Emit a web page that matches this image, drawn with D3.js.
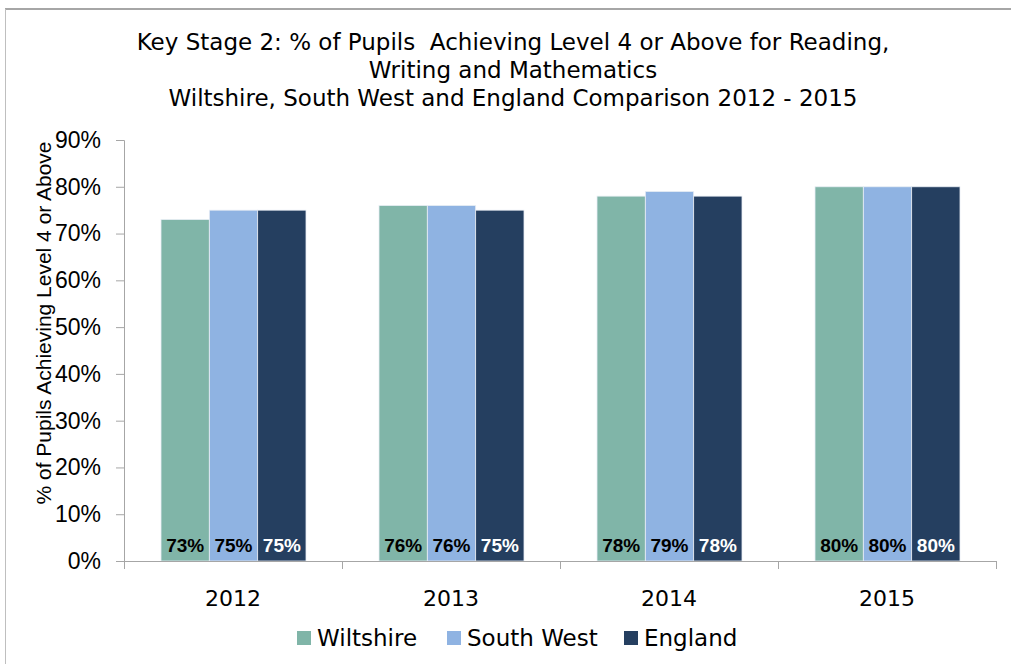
<!DOCTYPE html>
<html>
<head>
<meta charset="utf-8">
<script src="https://cdn.jsdelivr.net/npm/d3@7"></script>
<style>
  body { margin: 0; background: #fff; }
  svg { display: block; }
</style>
</head>
<body>
<div id="vis"></div>
<script>
// chart data
const years = ["2012", "2013", "2014", "2015"];
const seriesNames = ["Wiltshire", "South West", "England"];
const wiltshire = [73, 76, 78, 80];
const southWest = [75, 76, 79, 80];
const england = [75, 75, 78, 80];
const yTicks = [0, 10, 20, 30, 40, 50, 60, 70, 80, 90];
const titleLines = [
  "Key Stage 2: % of Pupils  Achieving Level 4 or Above for Reading,",
  "Writing and Mathematics",
  "Wiltshire, South West and England Comparison 2012 - 2015"
];

const COLORS = ["#80b5a8", "#8fb3e2", "#253f60"];
const LABEL_COLORS = ["#000", "#000", "#fff"];

const FRAME_WIDTH = 1011;
const FRAME_HEIGHT = 664;
const MARGINS = {left: 124, right: 15, top: 140, bottom: 103};
const VIS_WIDTH = FRAME_WIDTH - MARGINS.left - MARGINS.right;
const VIS_HEIGHT = FRAME_HEIGHT - MARGINS.top - MARGINS.bottom;

const FRAME = d3.select("#vis")
  .append("svg")
    .attr("width", FRAME_WIDTH)
    .attr("height", FRAME_HEIGHT);

// outer chart border (top + left visible)
FRAME.append("line")
  .attr("x1", 5).attr("x2", FRAME_WIDTH).attr("y1", 9).attr("y2", 9)
  .attr("stroke", "#a6a6a6").attr("stroke-width", 2);
FRAME.append("line")
  .attr("x1", 5.5).attr("x2", 5.5).attr("y1", 9).attr("y2", FRAME_HEIGHT)
  .attr("stroke", "#bfbfbf").attr("stroke-width", 1);

// title
FRAME.append("text")
  .attr("x", 513)
  .attr("y", 50)
  .attr("text-anchor", "middle")
  .attr("font-family", "DejaVu Sans, sans-serif")
  .attr("font-size", "23px")
  .attr("fill", "#000")
  .selectAll("tspan")
  .data(titleLines)
  .enter()
  .append("tspan")
    .attr("x", 513)
    .attr("dy", (d, i) => i === 0 ? 0 : 28)
    .style("white-space", "pre")
    .text(d => d);

const X_SCALE = d3.scaleBand()
  .domain(years)
  .range([0, VIS_WIDTH])
  .paddingInner(0)
  .paddingOuter(0);

const X_INNER = d3.scaleBand()
  .domain(seriesNames)
  .range([37, X_SCALE.bandwidth() - 36])
  .padding(0);

const Y_SCALE = d3.scaleLinear()
  .domain([0, 90])
  .range([VIS_HEIGHT, 0]);

const g = FRAME.append("g")
  .attr("transform", "translate(" + MARGINS.left + "," + MARGINS.top + ")");

const allSeries = [wiltshire, southWest, england];
const rows = [];
years.forEach((yr, i) => {
  seriesNames.forEach((s, j) => {
    rows.push({year: yr, series: s, idx: j, value: allSeries[j][i]});
  });
});

// bars
g.selectAll(".bar")
  .data(rows)
  .enter()
  .append("rect")
    .attr("x", d => X_SCALE(d.year) + X_INNER(d.series))
    .attr("y", d => Y_SCALE(d.value))
    .attr("width", X_INNER.bandwidth())
    .attr("height", d => VIS_HEIGHT - Y_SCALE(d.value))
    .attr("fill", d => COLORS[d.idx])
    .attr("stroke", "#e8eef4")
    .attr("stroke-width", 0.8);

// data labels at the bottom of the bars
g.selectAll(".lbl")
  .data(rows)
  .enter()
  .append("text")
    .attr("x", d => X_SCALE(d.year) + X_INNER(d.series) + X_INNER.bandwidth() / 2)
    .attr("y", VIS_HEIGHT - 9)
    .attr("text-anchor", "middle")
    .attr("font-family", "Liberation Sans, Arial, sans-serif")
    .attr("font-weight", "bold")
    .attr("font-size", "19px")
    .attr("fill", d => LABEL_COLORS[d.idx])
    .text(d => d.value + "%");

// y axis
const yAxis = g.append("g")
  .call(d3.axisLeft(Y_SCALE).tickValues(yTicks).tickFormat(d => d + "%").tickSize(8).tickPadding(15));
yAxis.selectAll("text")
  .attr("font-family", "Liberation Sans, Arial, sans-serif")
  .attr("font-size", "23px")
  .attr("fill", "#000");
yAxis.selectAll("line").attr("stroke", "#a6a6a6");
yAxis.select(".domain").attr("stroke", "#a6a6a6").attr("d", "M-8,0.5H0.5V" + (VIS_HEIGHT + 0.5));

// x axis: ticks on category boundaries
const xAxis = g.append("g")
  .attr("transform", "translate(0," + VIS_HEIGHT + ")");
xAxis.append("line")
  .attr("x1", 0).attr("x2", VIS_WIDTH)
  .attr("y1", 0.5).attr("y2", 0.5)
  .attr("stroke", "#a6a6a6");
const boundaries = years.map(y => X_SCALE(y)).concat([VIS_WIDTH]);
xAxis.selectAll(".xtick")
  .data(boundaries)
  .enter()
  .append("line")
    .attr("x1", d => Math.round(d) + 0.5).attr("x2", d => Math.round(d) + 0.5)
    .attr("y1", 0).attr("y2", 8)
    .attr("stroke", "#a6a6a6");
xAxis.selectAll(".xlabel")
  .data(years)
  .enter()
  .append("text")
    .attr("x", d => X_SCALE(d) + X_SCALE.bandwidth() / 2)
    .attr("y", 45)
    .attr("text-anchor", "middle")
    .attr("font-family", "DejaVu Sans, sans-serif")
    .attr("font-size", "22px")
    .attr("fill", "#000")
    .text(d => d);

// y axis title
FRAME.append("text")
  .attr("transform", "translate(51," + 323 + ") rotate(-90)")
  .attr("text-anchor", "middle")
  .attr("font-family", "Liberation Sans, Arial, sans-serif")
  .attr("font-size", "21px")
  .attr("fill", "#000")
  .text("% of Pupils Achieving Level 4 or Above");

// legend
const legendX = [297, 447, 624];
const legend = FRAME.selectAll(".legend")
  .data(seriesNames)
  .enter()
  .append("g")
    .attr("transform", (d, i) => "translate(" + legendX[i] + ",631)");
legend.append("rect")
  .attr("width", 14).attr("height", 14)
  .attr("fill", (d, i) => COLORS[i]);
legend.append("text")
  .attr("x", 20)
  .attr("y", 15)
  .attr("font-family", "DejaVu Sans, sans-serif")
  .attr("font-size", "23px")
  .attr("fill", "#000")
  .text(d => d);
</script>
</body>
</html>
